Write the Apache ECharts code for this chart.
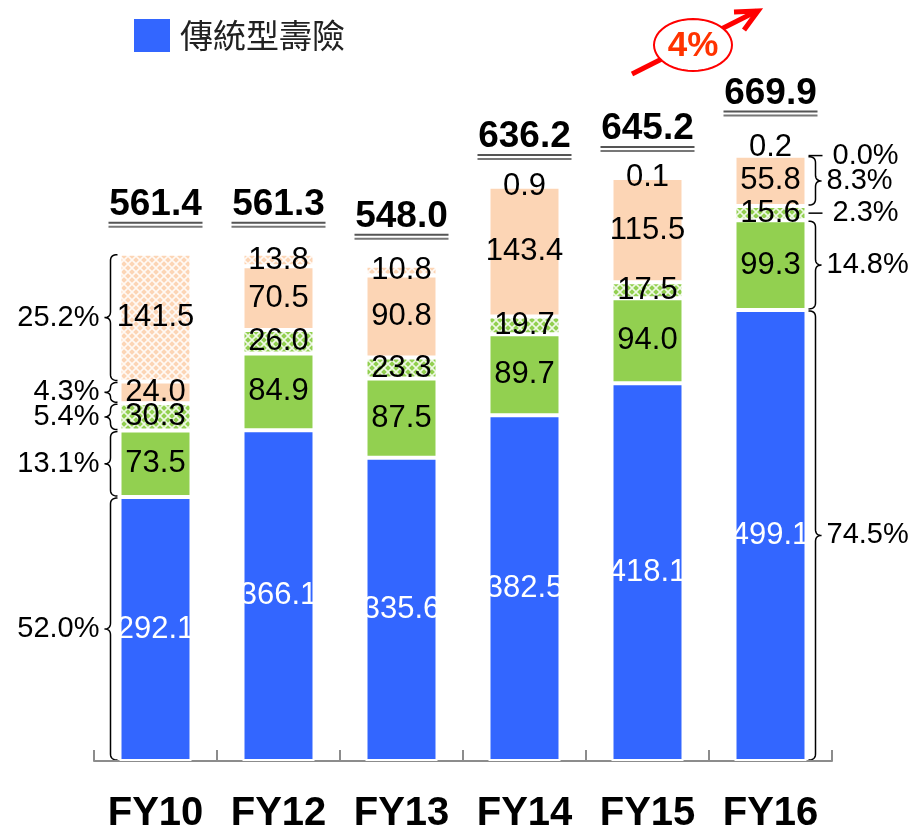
<!DOCTYPE html>
<html>
<head>
<meta charset="utf-8">
<script src="https://cdn.jsdelivr.net/npm/echarts@6/dist/echarts.min.js"></script>
<style>
  html, body { margin: 0; padding: 0; background: #fff; }
  #chart { width: 915px; height: 834px; }
</style>
</head>
<body>
<div id="chart"></div>
<script>
// data, bottom segment first
const categories = ['FY10', 'FY12', 'FY13', 'FY14', 'FY15', 'FY16'];
const traditional = [292.1, 366.1, 335.6, 382.5, 418.1, 499.1];
const greenSolid = [73.5, 84.9, 87.5, 89.7, 94.0, 99.3];
const greenHatch = [30.3, 26.0, 23.3, 19.7, 17.5, 15.6];
const peachSolid = [24.0, 70.5, 90.8, 143.4, 115.5, 55.8];
const peachHatch = [141.5, 13.8, 10.8, 0.9, 0.1, 0.2];
const totals = [561.4, 561.3, 548.0, 636.2, 645.2, 669.9];
// share of each segment, bottom to top
const leftShares = ['52.0%', '13.1%', '5.4%', '4.3%', '25.2%'];   // FY10
const rightShares = ['74.5%', '14.8%', '2.3%', '8.3%', '0.0%'];   // FY16
const growthText = '4%';

const FONT = '"Liberation Sans", Arial, sans-serif';

function hatch(base) {
  const c = document.createElement('canvas');
  c.width = 8; c.height = 8;
  const g = c.getContext('2d');
  g.fillStyle = base;
  g.fillRect(0, 0, 8, 8);
  g.strokeStyle = 'rgba(255,255,255,0.85)';
  g.lineWidth = 1.6;
  g.beginPath();
  g.moveTo(0, 0); g.lineTo(8, 8);
  g.moveTo(8, 0); g.lineTo(0, 8);
  g.stroke();
  return { image: c, repeat: 'repeat' };
}

const chart = echarts.init(document.getElementById('chart'));

function segLabel(color) {
  return {
    show: true,
    position: 'inside',
    color: color,
    fontSize: 31,
    fontFamily: FONT,
    formatter: p => Number(p.value).toFixed(1)
  };
}

function barSeries(name, data, color, labelColor) {
  return {
    name: name,
    type: 'bar',
    stack: 'total',
    barWidth: 72,
    data: data,
    itemStyle: { color: color, borderColor: '#fff', borderWidth: 2 },
    label: segLabel(labelColor || '#000')
  };
}

const option = {
  animation: false,
  backgroundColor: '#fff',
  legend: {
    data: ['傳統型壽險'],
    left: 127,
    top: 12,
    itemWidth: 38,
    itemHeight: 35,
    icon: 'rect',
    textStyle: {
      fontSize: 33,
      color: '#222',
      fontFamily: '"Noto Sans CJK TC", sans-serif',
      padding: [0, 0, 0, 4]
    }
  },
  grid: { left: 94, right: 83, top: 38, bottom: 72 },
  xAxis: {
    type: 'category',
    data: categories,
    axisLine: { show: true, lineStyle: { color: '#8c8c8c', width: 2 } },
    axisTick: { show: true, interval: 0, inside: true, length: 11, lineStyle: { color: '#8c8c8c', width: 2 } },
    axisLabel: {
      interval: 0,
      margin: 33,
      fontSize: 40,
      fontWeight: 'bold',
      color: '#000',
      fontFamily: FONT
    }
  },
  yAxis: {
    type: 'value',
    min: 0,
    max: 800,
    show: false,
    splitLine: { show: false }
  },
  series: [
    barSeries('傳統型壽險', traditional, '#3366ff', '#fff'),
    barSeries('greenSolid', greenSolid, '#92d050'),
    barSeries('greenHatch', greenHatch, hatch('#92d050')),
    barSeries('peachSolid', peachSolid, '#fcd5b5'),
    barSeries('peachHatch', peachHatch.map((v, i) => i === 5 ? { value: v, label: { offset: [0, -8] } } : v), hatch('#fcd5b5')),
    {
      name: 'total',
      type: 'scatter',
      symbolSize: 0,
      itemStyle: { opacity: 1 },
      data: totals.map((v, i) => i === 5 ? { value: v, label: { offset: [0, -13] } } : v),
      label: {
        show: true,
        position: 'top',
        distance: 29,
        fontSize: 37,
        lineHeight: 40,
        fontWeight: 'bold',
        color: '#000',
        opacity: 1,
        fontFamily: FONT,
        formatter: p => Number(p.value).toFixed(1)
      },
      z: 5
    }
  ]
};

chart.setOption(option);

// ---- annotations: underlines, braces, shares, growth arrow ----
function px(cat, val) {
  return chart.convertToPixel({ gridIndex: 0 }, [cat, val]);
}

function quad(pts, a, b, c) {
  for (let t = 0; t <= 1.0001; t += 0.125) {
    const u = 1 - t;
    pts.push([u * u * a[0] + 2 * u * t * b[0] + t * t * c[0],
              u * u * a[1] + 2 * u * t * b[1] + t * t * c[1]]);
  }
}

function bracePoints(xe, y1, y2, dir) {
  // xe: x of brace ends (near bar), dir: -1 tip to the left, 1 tip to the right
  const xs = xe + dir * 7;
  const xt = xe + dir * 13;
  const ym = (y1 + y2) / 2;
  const r = Math.min(6, (y2 - y1) / 4);
  const pts = [];
  quad(pts, [xe, y1], [xs, y1], [xs, y1 + r]);
  pts.push([xs, ym - r]);
  quad(pts, [xs, ym - r], [xs, ym], [xt, ym]);
  quad(pts, [xt, ym], [xs, ym], [xs, ym + r]);
  pts.push([xs, y2 - r]);
  quad(pts, [xs, y2 - r], [xs, y2], [xe, y2]);
  return pts;
}

const graphics = [];
const stacks = [traditional, greenSolid, greenHatch, peachSolid, peachHatch];

// double underline under each total
totals.forEach((t, i) => {
  const p = px(categories[i], t);
  const lift = i === 5 ? 13 : 0;
  const yc = p[1] - 49 - lift;
  [[17, '#555'], [21, '#777']].forEach(d => {
    graphics.push({
      type: 'rect',
      shape: { x: p[0] - 47, y: yc + d[0], width: 94, height: 2 },
      style: { fill: d[1] },
      silent: true
    });
  });
});

function shareMarks(catIdx, shares, side) {
  let cum = 0;
  stacks.forEach((arr, k) => {
    const v = arr[catIdx];
    const bottom = px(categories[catIdx], cum);
    const top = px(categories[catIdx], cum + v);
    cum += v;
    const cx = bottom[0];
    const y1 = top[1] + 1;
    const y2 = bottom[1] - 1;
    const ym = (y1 + y2) / 2;
    const edge = side < 0 ? cx - 35 : cx + 35;
    const xe = edge + side * 3;
    let textX;
    if (y2 - y1 < 18) {
      graphics.push({
        type: 'line',
        shape: { x1: xe, y1: ym, x2: xe + side * 14, y2: ym },
        style: { stroke: '#000', lineWidth: 1.5 },
        silent: true
      });
      textX = xe + side * 24;
    } else {
      graphics.push({
        type: 'polyline',
        shape: { points: bracePoints(xe, y1, y2, side) },
        style: { stroke: '#000', lineWidth: 1.5, fill: null },
        silent: true
      });
      textX = xe + side * 18;
    }
    graphics.push({
      type: 'text',
      x: textX,
      y: ym,
      style: {
        text: shares[k],
        fontSize: 29,
        fontFamily: FONT,
        fill: '#000',
        align: side < 0 ? 'right' : 'left',
        verticalAlign: 'middle'
      },
      silent: true
    });
  });
}

shareMarks(0, leftShares, -1);
shareMarks(5, rightShares, 1);

// growth arrow with ellipse
graphics.push({
  type: 'line',
  shape: { x1: 632, y1: 74, x2: 757, y2: 11 },
  style: { stroke: '#ff0000', lineWidth: 5 },
  silent: true
});
graphics.push({
  type: 'polyline',
  shape: { points: [[734, 12], [758, 11], [744, 30]] },
  style: { stroke: '#ff0000', lineWidth: 5, fill: null },
  silent: true
});
const ell = [];
for (let a = 0; a < 360; a += 7.5) {
  const r = a * Math.PI / 180;
  ell.push([693 + 39 * Math.cos(r), 45 + 26 * Math.sin(r)]);
}
graphics.push({
  type: 'polygon',
  shape: { points: ell },
  style: { fill: '#fff', stroke: '#ff0000', lineWidth: 2 },
  silent: true
});
graphics.push({
  type: 'text',
  x: 693,
  y: 46,
  style: {
    text: growthText,
    fontSize: 35,
    fontWeight: 'bold',
    fontFamily: FONT,
    fill: '#ff3300',
    align: 'center',
    verticalAlign: 'middle'
  },
  silent: true
});

chart.setOption({ graphic: graphics });
</script>
</body>
</html>
